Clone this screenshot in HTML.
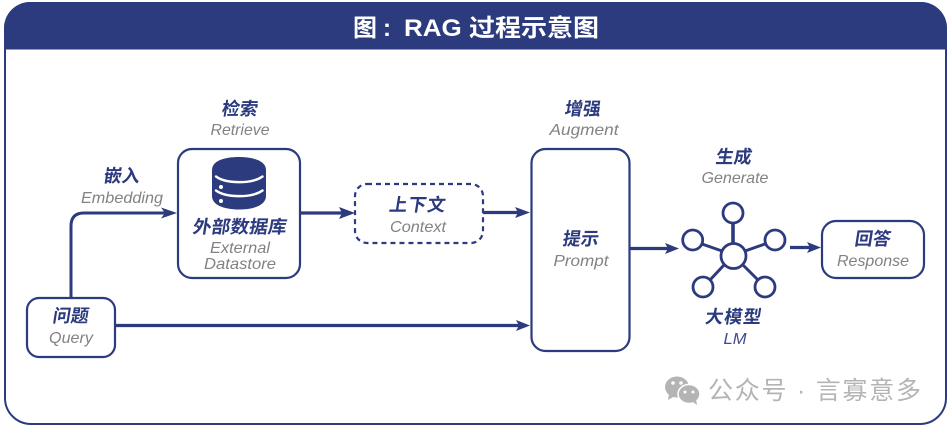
<!DOCTYPE html>
<html><head><meta charset="utf-8"><style>
html,body{margin:0;padding:0;background:#fff;width:951px;height:429px;overflow:hidden}
svg{display:block}
text{font-family:"Liberation Sans","Noto Sans CJK SC",sans-serif}
.zh{font-size:18px;font-weight:700;fill:#2c3a7e;text-anchor:middle;transform-box:fill-box;transform-origin:center;transform:skewX(-9deg)}
.en{font-size:16px;font-style:italic;fill:#828282;text-anchor:middle}
.box{fill:#fff;stroke:#2c3a7e;stroke-width:2.2}
.ln{fill:none;stroke:#2c3a7e;stroke-width:3}
.th{stroke-width:3.2}
.ar{fill:#2c3a7e}
.c{fill:#fff;stroke:#2c3a7e;stroke-width:2.8}
.s{stroke:#2c3a7e;stroke-width:3}
.t{font-size:24px;font-weight:700;fill:#fff}
</style></head><body>
<svg width="951" height="429" viewBox="0 0 951 429" xmlns="http://www.w3.org/2000/svg">
<rect x="5" y="3" width="941" height="421" rx="26" fill="#fff" stroke="#2c3a7e" stroke-width="2"/>
<path d="M4 49.500V29A26 26 0 0 1 30 2H921A26 26 0 0 1 947 29V49.500Z" fill="#2c3a7e"/>
<text class="t" x="353" y="36">图</text>
<text class="t" x="383" y="36">:</text>
<text class="t" x="404" y="36" textLength="195" lengthAdjust="spacingAndGlyphs">RAG 过程示意图</text>

<!-- connectors -->
<path class="ln" d="M71 298V226Q71 213 84 213H170"/>
<path class="ar" d="M161 207.500L177 213L161 218.500L165 213Z"/>
<path class="ln th" d="M300 213H348"/>
<path class="ar" d="M339 207L355 213L339 219L342 213Z"/>
<path class="ln th" d="M483 212.500H524"/>
<path class="ar" d="M515 207L530 212.500L515 218L518 212.500Z"/>
<path class="ln th" d="M115 325.500H524"/>
<path class="ar" d="M516 320L530 325.500L516 331L519 325.500Z"/>
<path class="ln th" d="M629 248.500H672"/>
<path class="ar" d="M665 243L679 248.500L665 254L668 248.500Z"/>
<path class="ln th" d="M790 247.500H815"/>
<path class="ar" d="M807 242L821 247.500L807 253L810 247.500Z"/>

<!-- boxes -->
<rect class="box" x="178" y="149" width="122" height="129" rx="14"/>
<rect class="box" x="355" y="184" width="128" height="59" rx="12" stroke-dasharray="5 4"/>
<rect class="box" x="531.500" y="149" width="98" height="202" rx="14"/>
<rect class="box" x="27" y="298" width="88" height="59" rx="12"/>
<rect class="box" x="822" y="221" width="102" height="57" rx="14"/>

<!-- database icon -->
<path class="ar" d="M212 170C212 161 224 157 239 157C254 157 266 161 266 170V196C266 205 254 209.500 239 209.500C224 209.500 212 205 212 196Z"/>
<path d="M216 176.500C226 184 252 184 262.500 176.500M216 190.500C226 198 252 198 262.500 190.500" fill="none" stroke="#fff" stroke-width="2.400" stroke-linecap="round"/>
<circle cx="221" cy="187" r="2" fill="#fff"/><circle cx="221" cy="201" r="2" fill="#fff"/>

<!-- network -->
<path class="s" style="stroke-width:3.600" d="M733 223V244"/>
<path class="s" d="M702 244L722 251M765 244L745 251M710 280L724 265M758 280L743 265"/>
<circle class="c" cx="733" cy="213" r="10"/>
<circle class="c" cx="692.700" cy="240" r="10"/>
<circle class="c" cx="775" cy="240" r="10"/>
<circle class="c" cx="703" cy="287" r="10"/>
<circle class="c" cx="765" cy="287" r="10"/>
<circle class="c" cx="733.500" cy="256" r="12.500"/>

<!-- labels -->
<text class="zh" x="240" y="115">检索</text>
<text class="en" x="240" y="135" textLength="59" lengthAdjust="spacingAndGlyphs">Retrieve</text>
<text class="zh" x="122" y="182">嵌入</text>
<text class="en" x="122" y="203" textLength="82" lengthAdjust="spacingAndGlyphs">Embedding</text>
<text class="zh" x="240" y="233" textLength="94" lengthAdjust="spacingAndGlyphs">外部数据库</text>
<text class="en" x="240" y="253" textLength="60" lengthAdjust="spacingAndGlyphs">External</text>
<text class="en" x="240" y="269" textLength="72" lengthAdjust="spacingAndGlyphs">Datastore</text>
<text class="zh" x="418" y="211" style="letter-spacing:1px">上下文</text>
<text class="en" x="418" y="232" textLength="56" lengthAdjust="spacingAndGlyphs">Context</text>
<text class="zh" x="583" y="115">增强</text>
<text class="en" x="584" y="135" textLength="69" lengthAdjust="spacingAndGlyphs">Augment</text>
<text class="zh" x="581" y="245">提示</text>
<text class="en" x="581" y="266" textLength="55" lengthAdjust="spacingAndGlyphs">Prompt</text>
<text class="zh" x="734" y="163">生成</text>
<text class="en" x="735" y="183" textLength="67" lengthAdjust="spacingAndGlyphs">Generate</text>
<text class="zh" x="734" y="323" style="letter-spacing:1px">大模型</text>
<text class="en" x="735" y="344" style="fill:#3d4a8c" textLength="23" lengthAdjust="spacingAndGlyphs">LM</text>
<text class="zh" x="873" y="245">回答</text>
<text class="en" x="873" y="266" textLength="72" lengthAdjust="spacingAndGlyphs">Response</text>
<text class="zh" x="71" y="322">问题</text>
<text class="en" x="71" y="343" textLength="44" lengthAdjust="spacingAndGlyphs">Query</text>

<!-- watermark -->
<g fill="#b4b4b4">
<ellipse cx="677" cy="387" rx="12" ry="10.500"/>
<path d="M669 394L668 400L675 396Z"/>
<ellipse cx="689" cy="394" rx="11" ry="9.500" stroke="#fff" stroke-width="1.500"/>
<path d="M693 402L697 405L696 399Z"/>
</g>
<g fill="#fff"><circle cx="673" cy="383" r="1.800"/><circle cx="681" cy="383" r="1.800"/><circle cx="685" cy="392" r="1.500"/><circle cx="693" cy="392" r="1.500"/></g>
<text x="708" y="399" font-size="25" fill="#b4b4b4" textLength="213" lengthAdjust="spacing">公众号 · 言寡意多</text>
</svg>
</body></html>
